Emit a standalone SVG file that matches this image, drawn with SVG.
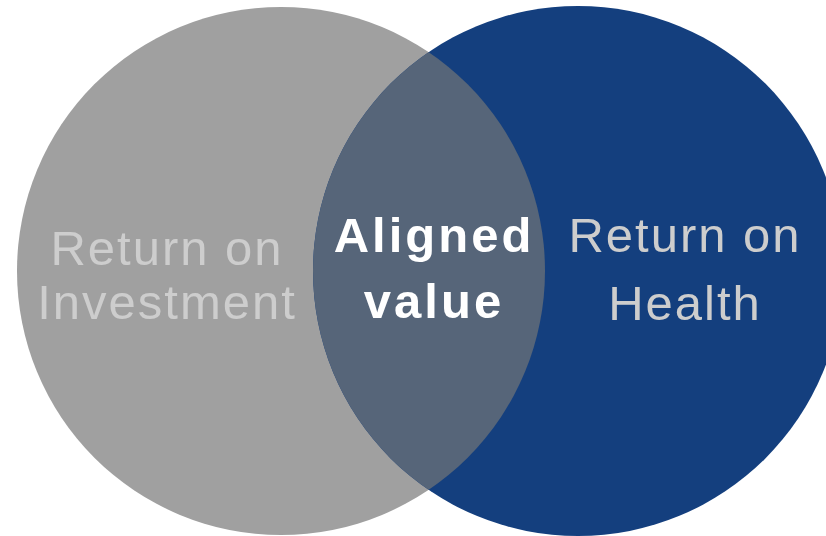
<svg xmlns="http://www.w3.org/2000/svg" width="826" height="536" viewBox="0 0 826 536">
  <style>
    .lbl { font-family: "Liberation Sans", Arial, sans-serif; font-size: 49px; letter-spacing: 2px; fill: #cdcdcd; text-anchor: middle; }
    .mid { font-family: "Liberation Sans", Arial, sans-serif; font-size: 49px; font-weight: bold; letter-spacing: 3px; fill: #ffffff; text-anchor: middle; }
  </style>
  <defs>
    <clipPath id="clipLeft">
      <circle cx="281" cy="271" r="264"/>
    </clipPath>
  </defs>
  <rect width="826" height="536" fill="#ffffff"/>
  <g id="roi">
    <circle cx="281" cy="271" r="264" fill="#a0a0a0"/>
  </g>
  <g id="roh">
    <circle cx="578" cy="271" r="265" fill="#143f7e"/>
  </g>
  <g id="aligned">
    <circle cx="578" cy="271" r="265" fill="#566579" clip-path="url(#clipLeft)"/>
  </g>
  <g id="labels">
    <text class="lbl" x="167" y="265">Return on</text>
    <text class="lbl" x="167" y="319">Investment</text>
    <text class="lbl" x="685" y="252">Return on</text>
    <text class="lbl" x="685" y="320">Health</text>
    <text class="mid" x="434" y="252">Aligned</text>
    <text class="mid" x="434" y="318">value</text>
  </g>
</svg>
